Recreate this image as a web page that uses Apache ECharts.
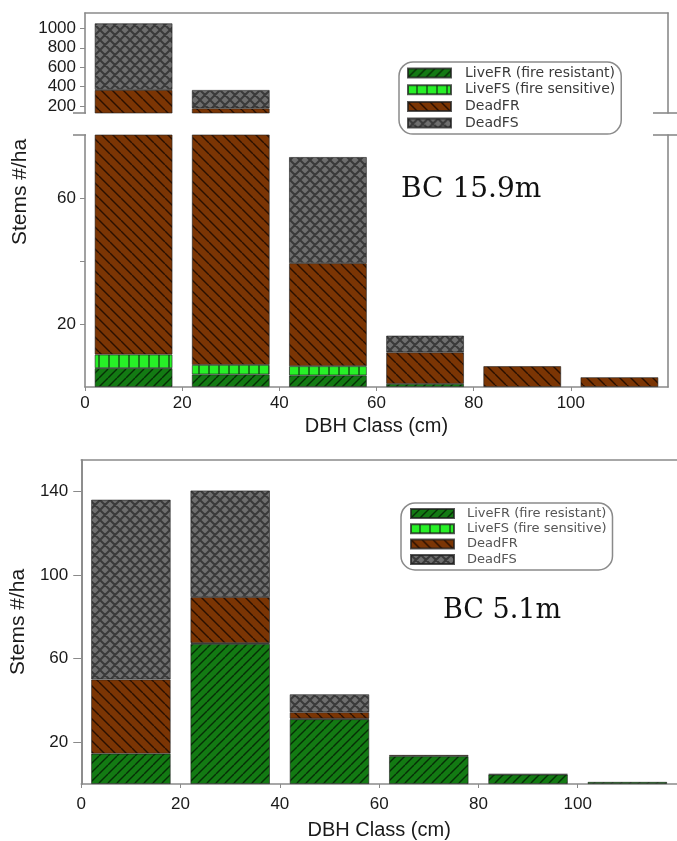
<!DOCTYPE html>
<html><head><meta charset="utf-8">
<script src="https://cdn.jsdelivr.net/npm/echarts@6/dist/echarts.min.js"></script>
<style>html,body{margin:0;padding:0;background:#fff}#c{width:677px;height:841px}</style>
</head><body><div id="c"></div>
<script>
// ---------- data ----------
const categories = ['0-20', '20-40', '40-60', '60-80', '80-100', '100-120'];
const seriesNames = ['LiveFR (fire resistant)', 'LiveFS (fire sensitive)', 'DeadFR', 'DeadFS'];

// Panel A: BC 15.9m (stems/ha per DBH class)
const a_liveFR = [6, 4, 3.7, 1, 0, 0];
const a_liveFS = [4.3, 3, 2.9, 0, 0, 0];
const a_deadFR = [355, 169, 32.7, 10, 6.6, 3.1];
const a_deadFS = [686, 189, 33.7, 5.3, 0, 0];

// Panel B: BC 5.1m
const b_liveFR = [14.5, 67, 31, 13.3, 4.5, 1];
const b_liveFS = [0, 0.4, 0.3, 0, 0, 0];
const b_deadFR = [35.5, 22, 3, 0.6, 0.3, 0];
const b_deadFS = [86, 51, 8.6, 0, 0, 0];

const xTickLabels = [0, 20, 40, 60, 80, 100];
const a_yUpperLabels = [200, 400, 600, 800, 1000];
const a_yLowerLabels = [20, 60];
const a_yLowerTicks = [20, 40, 60];
const b_yLabels = [20, 60, 100, 140];
const panelLabels = ['BC 15.9m', 'BC 5.1m'];
const xName = 'DBH Class (cm)';
const yName = 'Stems #/ha';

// ---------- styling helpers ----------
function pat(bg, fg, kind, s, lw) {
  const c = document.createElement('canvas'); c.width = s; c.height = s;
  const g = c.getContext('2d');
  g.fillStyle = bg; g.fillRect(0, 0, s, s);
  g.strokeStyle = fg; g.lineWidth = lw;
  g.beginPath();
  if (kind === 'fwd' || kind === 'cross') for (const k of [-s, 0, s]) { g.moveTo(k, s); g.lineTo(k + s, 0); }
  if (kind === 'back' || kind === 'cross') for (const k of [-s, 0, s]) { g.moveTo(k, 0); g.lineTo(k + s, s); }
  g.stroke();
  if (kind === 'vert') { g.fillStyle = fg; g.fillRect(s - 2, 0, 2, s); }
  return { image: c, repeat: 'repeat' };
}
const fills = [
  pat('#137a13', '#062e06', 'fwd', 9, 1.4),
  pat('#27f027', '#1a7a1a', 'vert', 10, 2),
  pat('#7b3504', '#2a1000', 'back', 11, 1.4),
  pat('#6e6e6e', '#3a3a3a', 'cross', 10, 2)
];
const AX = '#8a8a8a';
const LBL = { fontFamily: 'Liberation Sans, Arial, sans-serif', fontSize: 17, color: '#1a1a1a', formatter: v => String(v) };

function mkSeries(arrs, xIdx, yIdx, stack) {
  return arrs.map((arr, i) => ({
    name: seriesNames[i], type: 'bar', stack: stack,
    xAxisIndex: xIdx, yAxisIndex: yIdx, barWidth: '80%',
    data: arr.map(v => v === 0 ? '-' : v),
    itemStyle: { color: fills[i], borderColor: 'rgba(30,30,30,0.75)', borderWidth: 0.8 },
    emphasis: { disabled: true }
  }));
}
function catAxis(gi) { return { type: 'category', gridIndex: gi, data: categories, show: false }; }
function lineOnlyX(gi, pos) {
  return { type: 'value', gridIndex: gi, position: pos, min: 0, max: 120,
    axisLine: { show: true, lineStyle: { color: AX, width: 1.6 } },
    axisTick: { show: false }, axisLabel: { show: false }, splitLine: { show: false } };
}
function lineOnlyY(gi, min, max) {
  return { type: 'value', gridIndex: gi, position: 'right', min: min, max: max,
    axisLine: { show: true, lineStyle: { color: AX, width: 1.6 } },
    axisTick: { show: false }, axisLabel: { show: false }, splitLine: { show: false } };
}
function labelX(gi, gap, margin) {
  return { type: 'value', gridIndex: gi, position: 'bottom', min: 0, max: 120,
    name: xName, nameLocation: 'middle', nameGap: gap,
    nameTextStyle: { fontFamily: 'Liberation Sans, Arial, sans-serif', fontSize: 20, color: '#1a1a1a' },
    axisLine: { show: true, lineStyle: { color: AX, width: 1.6 } },
    axisTick: { show: true, customValues: xTickLabels, length: 4, lineStyle: { color: AX } },
    axisLabel: Object.assign({ customValues: xTickLabels, margin: margin }, LBL),
    splitLine: { show: false } };
}

const chart = echarts.init(document.getElementById('c'), null, { renderer: 'canvas' });
const legendBase = {
  data: seriesNames, orient: 'vertical', icon: 'rect', selectedMode: false,
  itemWidth: 43, itemHeight: 9, borderColor: '#8a8a8a', borderWidth: 1.5, borderRadius: 14
};
chart.setOption({
  animation: false,
  grid: [
    { left: 85, right: 9, top: 13, height: 100 },
    { left: 85, right: 9, top: 135, height: 252 },
    { left: 78, right: 0, top: 460, height: 328.5 }
  ],
  xAxis: [
    catAxis(0), lineOnlyX(0, 'top'),
    catAxis(1), labelX(1, 29, 8),
    catAxis(2), labelX(2, 36, 12), lineOnlyX(2, 'top')
  ],
  yAxis: [
    { type: 'value', gridIndex: 0, min: 128, max: 1158,
      axisLine: { show: true, lineStyle: { color: AX, width: 1.6 } },
      axisTick: { show: true, customValues: a_yUpperLabels, length: 5, lineStyle: { color: AX } },
      axisLabel: Object.assign({ customValues: a_yUpperLabels, margin: 9 }, LBL),
      splitLine: { show: false } },
    lineOnlyY(0, 128, 1158),
    { type: 'value', gridIndex: 1, min: 0, max: 80,
      axisLine: { show: true, lineStyle: { color: AX, width: 1.6 } },
      axisTick: { show: true, customValues: a_yLowerTicks, length: 5, lineStyle: { color: AX } },
      axisLabel: Object.assign({ customValues: a_yLowerLabels, margin: 9 }, LBL),
      splitLine: { show: false } },
    lineOnlyY(1, 0, 80),
    { type: 'value', gridIndex: 2, min: 0, max: 155,
      name: yName, nameLocation: 'middle', nameGap: 47,
      nameTextStyle: { fontFamily: 'Liberation Sans, Arial, sans-serif', fontSize: 21, color: '#1a1a1a' },
      axisLine: { show: true, lineStyle: { color: AX, width: 1.6 } },
      axisTick: { show: true, customValues: b_yLabels, length: 8, lineStyle: { color: AX } },
      axisLabel: Object.assign({ customValues: b_yLabels, margin: 13 }, LBL),
      splitLine: { show: false } },
    lineOnlyY(2, 0, 155)
  ],
  legend: [
    Object.assign({}, legendBase, { left: 399, top: 62, itemGap: 2.7, padding: [4, 6, 4, 8],
      textStyle: { fontFamily: 'DejaVu Sans, sans-serif', fontSize: 14, lineHeight: 14, color: '#3a3a3a', padding: [0, 0, 0, 9] } }),
    Object.assign({}, legendBase, { left: 401, top: 503, itemGap: 2.3, padding: [4, 6, 4, 9],
      textStyle: { fontFamily: 'DejaVu Sans, sans-serif', fontSize: 13, lineHeight: 12, color: '#555', padding: [0, 0, 0, 8] } })
  ],
  graphic: [
    { type: 'text', x: 20.5, y: 192, rotation: Math.PI / 2,
      style: { text: yName, fontFamily: 'Liberation Sans, Arial, sans-serif', fontSize: 21, fill: '#1a1a1a', align: 'center', verticalAlign: 'middle' } },
    { type: 'text', x: 401, y: 190,
      style: { text: panelLabels[0], fontFamily: 'DejaVu Serif, serif', fontSize: 28, fill: '#111', align: 'left', verticalAlign: 'middle' } },
    { type: 'text', x: 443, y: 611,
      style: { text: panelLabels[1], fontFamily: 'DejaVu Serif, serif', fontSize: 27, fill: '#111', align: 'left', verticalAlign: 'middle' } },
    { type: 'line', shape: { x1: 73, y1: 113, x2: 86, y2: 113 }, style: { stroke: AX, lineWidth: 1.6 } },
    { type: 'line', shape: { x1: 73, y1: 135, x2: 86, y2: 135 }, style: { stroke: AX, lineWidth: 1.6 } },
    { type: 'line', shape: { x1: 653, y1: 113, x2: 677, y2: 113 }, style: { stroke: AX, lineWidth: 1.6 } },
    { type: 'line', shape: { x1: 653, y1: 135, x2: 677, y2: 135 }, style: { stroke: AX, lineWidth: 1.6 } }
  ],
  series: [].concat(
    mkSeries([a_liveFR, a_liveFS, a_deadFR, a_deadFS], 0, 0, 'aUp'),
    mkSeries([a_liveFR, a_liveFS, a_deadFR, a_deadFS], 2, 2, 'aLow'),
    mkSeries([b_liveFR, b_liveFS, b_deadFR, b_deadFS], 4, 4, 'b')
  )
});
</script></body></html>
